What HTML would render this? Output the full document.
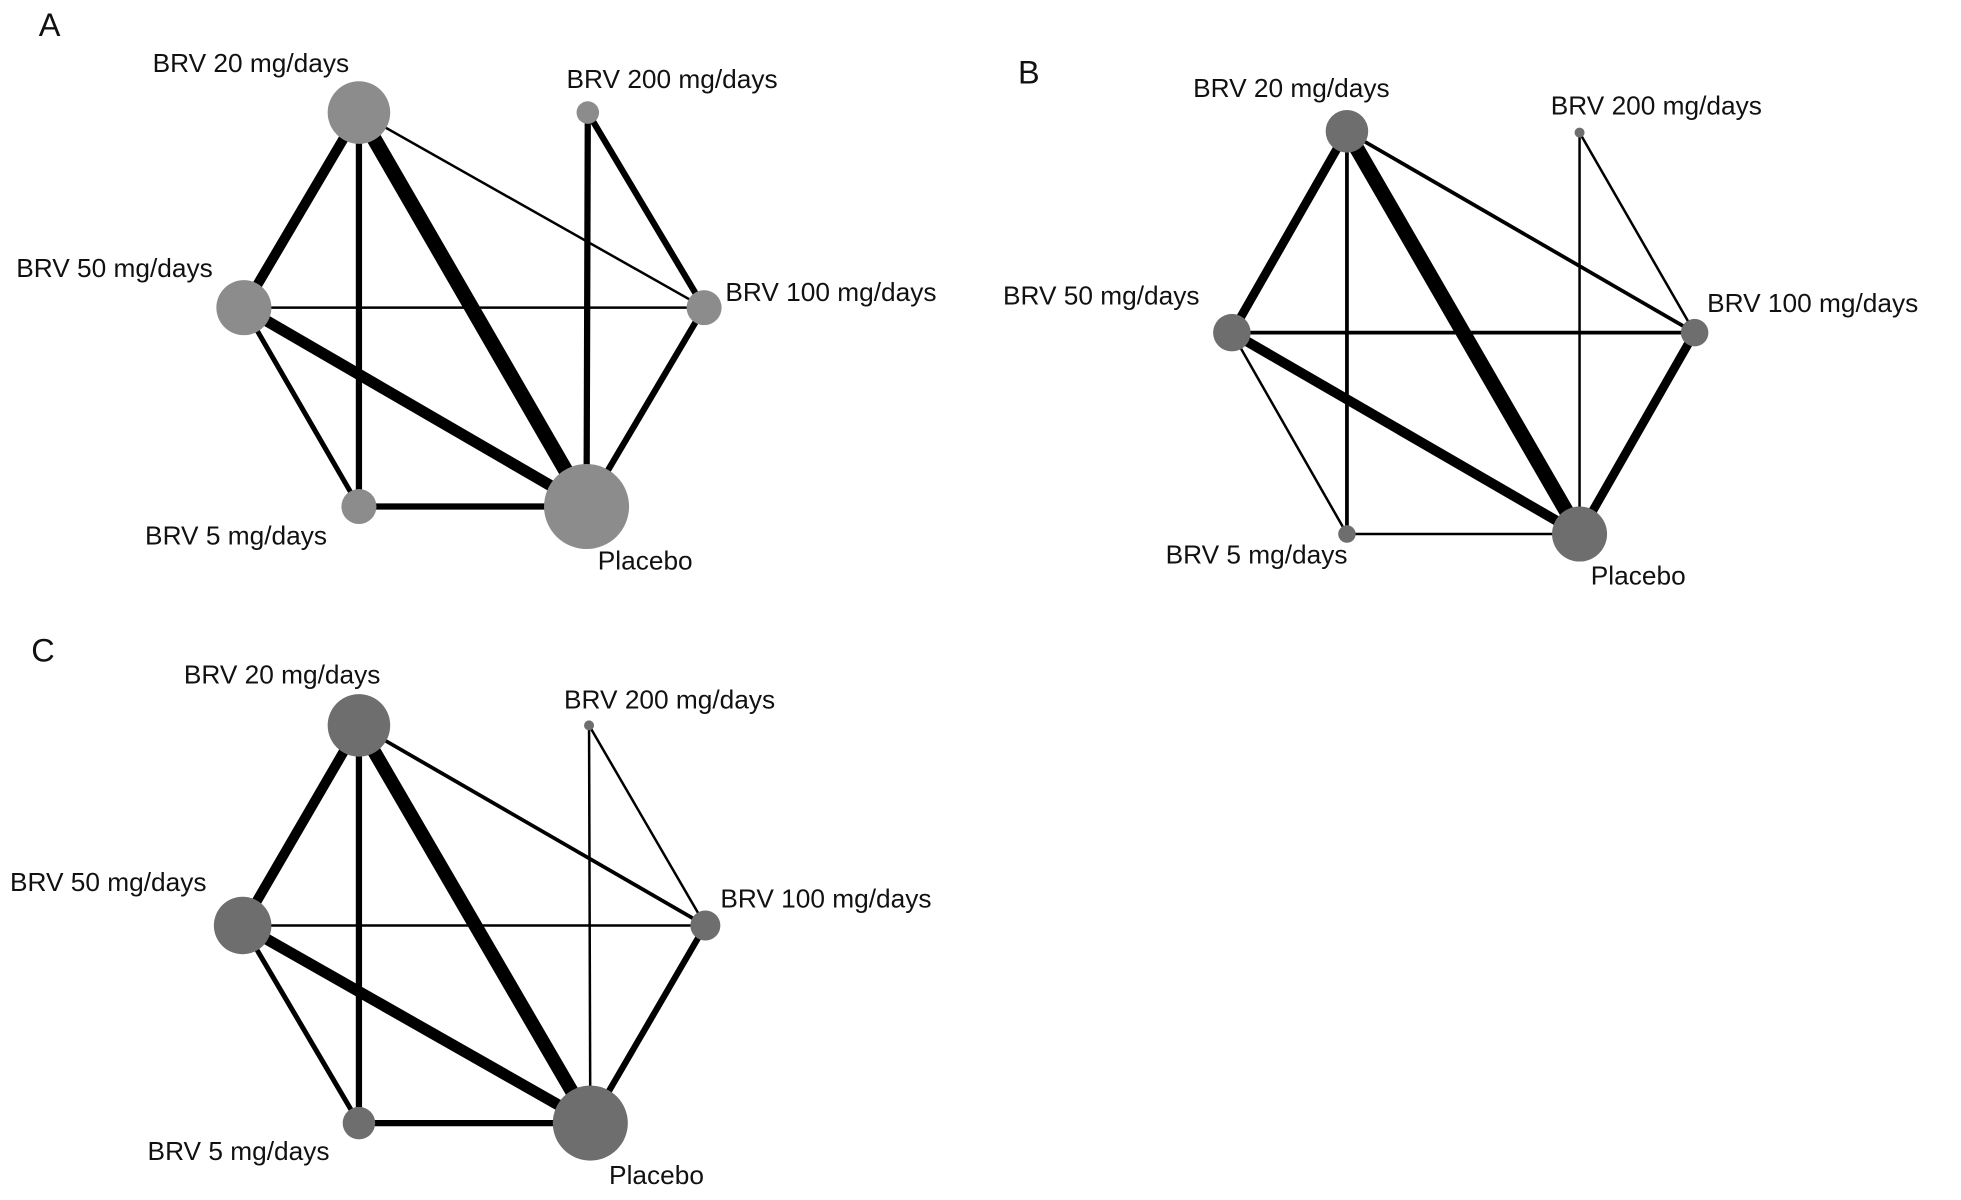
<!DOCTYPE html>
<html><head><meta charset="utf-8"><style>
html,body{margin:0;padding:0;background:#fff;}
svg{display:block;}
text{font-family:"Liberation Sans",Arial,sans-serif;font-size:21px;fill:#111;dominant-baseline:middle;}
.L{font-size:26px;}
</style></head><body>
<svg width="1961" height="1200" viewBox="0 0 1568 959.5" preserveAspectRatio="none" xmlns="http://www.w3.org/2000/svg">
<rect width="1568" height="960" fill="#fff"/>
<!-- Panel A -->
<g stroke="#000" stroke-linecap="butt">
<line x1="287" y1="90" x2="195" y2="246" stroke-width="8"/>
<line x1="287" y1="90" x2="287" y2="405" stroke-width="5"/>
<line x1="287" y1="90" x2="469" y2="405" stroke-width="12"/>
<line x1="287" y1="90" x2="563" y2="246" stroke-width="2"/>
<line x1="470" y1="90" x2="469" y2="405" stroke-width="5"/>
<line x1="470" y1="90" x2="563" y2="246" stroke-width="5"/>
<line x1="195" y1="246" x2="563" y2="246" stroke-width="2"/>
<line x1="195" y1="246" x2="469" y2="405" stroke-width="9"/>
<line x1="195" y1="246" x2="287" y2="405" stroke-width="4"/>
<line x1="287" y1="405" x2="469" y2="405" stroke-width="5"/>
<line x1="563" y1="246" x2="469" y2="405" stroke-width="5"/>
</g>
<g fill="#8c8c8c">
<circle cx="287" cy="90" r="25"/><circle cx="470" cy="90" r="9"/><circle cx="563" cy="246" r="14"/>
<circle cx="469" cy="405" r="34"/><circle cx="287" cy="405" r="14"/><circle cx="195" cy="246" r="22"/>
</g>
<text class="L" x="31" y="22">A</text>
<text x="122" y="52">BRV 20 mg/days</text>
<text x="453" y="65">BRV 200 mg/days</text>
<text x="580" y="235">BRV 100 mg/days</text>
<text x="13" y="216">BRV 50 mg/days</text>
<text x="116" y="430">BRV 5 mg/days</text>
<text x="478" y="450">Placebo</text>

<!-- Panel B -->
<g stroke="#000">
<line x1="1077" y1="105" x2="985" y2="266" stroke-width="7"/>
<line x1="1077" y1="105" x2="1077" y2="427" stroke-width="3"/>
<line x1="1077" y1="105" x2="1263" y2="427" stroke-width="12"/>
<line x1="1077" y1="105" x2="1355" y2="266" stroke-width="3"/>
<line x1="1263" y1="106" x2="1263" y2="427" stroke-width="2"/>
<line x1="1263" y1="106" x2="1355" y2="266" stroke-width="2"/>
<line x1="985" y1="266" x2="1355" y2="266" stroke-width="3"/>
<line x1="985" y1="266" x2="1263" y2="427" stroke-width="8"/>
<line x1="985" y1="266" x2="1077" y2="427" stroke-width="2"/>
<line x1="1077" y1="427" x2="1263" y2="427" stroke-width="2"/>
<line x1="1355" y1="266" x2="1263" y2="427" stroke-width="7"/>
</g>
<g fill="#6e6e6e">
<circle cx="1077" cy="105" r="17"/><circle cx="1263" cy="106" r="4"/><circle cx="1355" cy="266" r="11"/>
<circle cx="1263" cy="427" r="22"/><circle cx="1077" cy="427" r="7"/><circle cx="985" cy="266" r="15"/>
</g>
<text class="L" x="814" y="60">B</text>
<text x="954" y="72">BRV 20 mg/days</text>
<text x="1240" y="86">BRV 200 mg/days</text>
<text x="1365" y="244">BRV 100 mg/days</text>
<text x="802" y="238">BRV 50 mg/days</text>
<text x="932" y="445">BRV 5 mg/days</text>
<text x="1272" y="462">Placebo</text>

<!-- Panel C -->
<g stroke="#000">
<line x1="287" y1="580" x2="194" y2="740" stroke-width="8"/>
<line x1="287" y1="580" x2="287" y2="898" stroke-width="5"/>
<line x1="287" y1="580" x2="472" y2="898" stroke-width="11"/>
<line x1="287" y1="580" x2="564" y2="740" stroke-width="3"/>
<line x1="471" y1="580" x2="472" y2="898" stroke-width="2"/>
<line x1="471" y1="580" x2="564" y2="740" stroke-width="2"/>
<line x1="194" y1="740" x2="564" y2="740" stroke-width="2"/>
<line x1="194" y1="740" x2="472" y2="898" stroke-width="9"/>
<line x1="194" y1="740" x2="287" y2="898" stroke-width="4"/>
<line x1="287" y1="898" x2="472" y2="898" stroke-width="5"/>
<line x1="564" y1="740" x2="472" y2="898" stroke-width="5"/>
</g>
<g fill="#6e6e6e">
<circle cx="287" cy="580" r="25"/><circle cx="471" cy="580" r="4"/><circle cx="564" cy="740" r="12"/>
<circle cx="472" cy="898" r="30"/><circle cx="287" cy="898" r="13"/><circle cx="194" cy="740" r="23"/>
</g>
<text class="L" x="25" y="522">C</text>
<text x="147" y="541">BRV 20 mg/days</text>
<text x="451" y="561">BRV 200 mg/days</text>
<text x="576" y="720">BRV 100 mg/days</text>
<text x="8" y="707">BRV 50 mg/days</text>
<text x="118" y="922">BRV 5 mg/days</text>
<text x="487" y="941">Placebo</text>
</svg>
</body></html>
